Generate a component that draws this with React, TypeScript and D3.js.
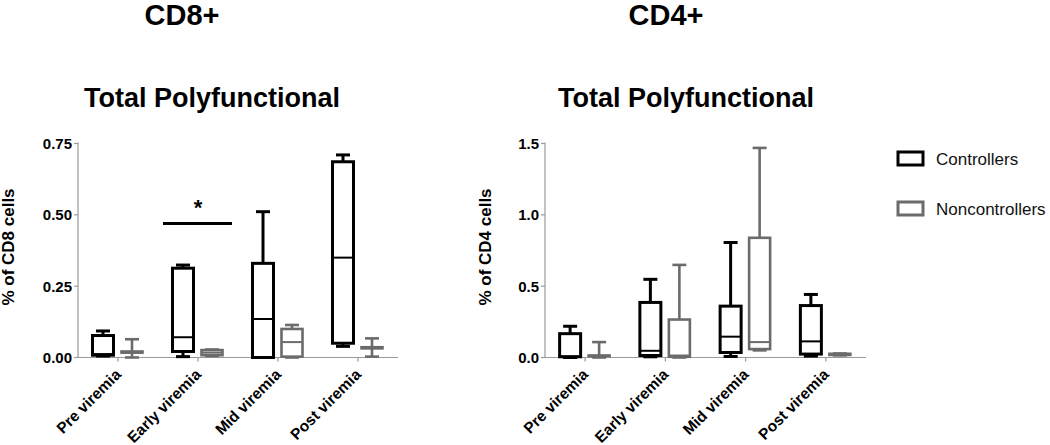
import React from 'react';
import * as d3 from 'd3';

// box stats: [min, q1, median, q3, max]
const categories = ['Pre viremia', 'Early viremia', 'Mid viremia', 'Post viremia'];
const groups = ['Controllers', 'Noncontrollers'];

const cd8Controllers = [
  [0.005, 0.008, 0.012, 0.077, 0.093],
  [0.003, 0.021, 0.071, 0.313, 0.324],
  [0.0, 0.0, 0.135, 0.33, 0.511],
  [0.039, 0.05, 0.35, 0.686, 0.71],
];
const cd8Noncontrollers = [
  [0.0, 0.017, 0.019, 0.021, 0.064],
  [0.005, 0.008, 0.017, 0.026, 0.028],
  [0.0, 0.003, 0.054, 0.1, 0.114],
  [0.003, 0.032, 0.034, 0.036, 0.067],
];
const cd4Controllers = [
  [0.0, 0.005, 0.007, 0.167, 0.219],
  [0.005, 0.014, 0.047, 0.386, 0.548],
  [0.007, 0.035, 0.146, 0.36, 0.806],
  [0.01, 0.024, 0.113, 0.364, 0.442],
];
const cd4Noncontrollers = [
  [0.0, 0.01, 0.012, 0.014, 0.108],
  [0.0, 0.005, 0.014, 0.266, 0.649],
  [0.05, 0.059, 0.108, 0.839, 1.469],
  [0.015, 0.018, 0.021, 0.026, 0.028],
];

const cd8Ticks = [0, 0.25, 0.5, 0.75];
const cd4Ticks = [0, 0.5, 1.0, 1.5];

const FONT = '"Liberation Sans", Arial, Helvetica, sans-serif';
const COLORS = ['#000000', '#6b6b6b'];
const AXIS = '#9a9a9a';

type PanelProps = {
  x0: number;
  x1: number;
  yMax: number;
  ticks: number[];
  fmt: string;
  yLabel: string;
  labelX: number;
  series: number[][][];
  children?: React.ReactNode;
};

const TOP = 143.5;
const BOTTOM = 357.5;

const Panel = ({ x0, x1, yMax, ticks, fmt, yLabel, labelX, series, children }: PanelProps) => {
  const x = d3.scaleBand<string>().domain(categories).range([x0, x1]);
  const y = d3.scaleLinear().domain([0, yMax]).range([BOTTOM, TOP]);
  const offset = d3.scalePoint<string>().domain(groups).range([-15, 14]);
  const f = d3.format(fmt);
  const boxW = 21;
  const capW = 14;

  return (
    <g>
      {/* axes */}
      <line x1={x0} x2={x0} y1={TOP - 1} y2={BOTTOM} stroke={AXIS} strokeWidth={1.2} />
      <line x1={x0} x2={x1} y1={BOTTOM} y2={BOTTOM} stroke={AXIS} strokeWidth={1.2} />
      {ticks.map((t) => (
        <g key={t}>
          <line x1={x0 - 4} x2={x0} y1={y(t)} y2={y(t)} stroke={AXIS} strokeWidth={1.2} />
          <text x={x0 - 6} y={y(t)} dy="0.36em" textAnchor="end" fontSize={15} fontWeight="bold" fontFamily={FONT}>
            {f(t)}
          </text>
        </g>
      ))}
      {categories.map((c) => {
        const cx = x(c)! + x.bandwidth() / 2;
        return (
          <g key={c}>
            <line x1={cx} x2={cx} y1={BOTTOM} y2={BOTTOM + 4} stroke={AXIS} strokeWidth={1.2} />
            <text
              transform={`translate(${cx + 4},${BOTTOM + 18}) rotate(-45)`}
              textAnchor="end"
              fontSize={15.5}
              fontWeight="bold"
              fontFamily={FONT}
            >
              {c}
            </text>
          </g>
        );
      })}
      <text
        transform={`translate(${labelX},247) rotate(-90)`}
        textAnchor="middle"
        fontSize={17}
        fontWeight="bold"
        fontFamily={FONT}
      >
        {yLabel}
      </text>

      {/* boxes */}
      {series.map((s, gi) =>
        s.map((d, ci) => {
          const [mn, q1, md, q3, mx] = d;
          const cx = x(categories[ci])! + x.bandwidth() / 2 + offset(groups[gi])!;
          const col = COLORS[gi];
          const sw = gi === 0 ? 3 : 2.6;
          return (
            <g key={`${gi}-${ci}`} stroke={col} fill="none">
              <line x1={cx} x2={cx} y1={y(q3)} y2={y(mx)} strokeWidth={sw} />
              <line x1={cx} x2={cx} y1={y(q1)} y2={y(mn)} strokeWidth={sw} />
              <line x1={cx - capW / 2} x2={cx + capW / 2} y1={y(mx)} y2={y(mx)} strokeWidth={sw} />
              <line x1={cx - capW / 2} x2={cx + capW / 2} y1={y(mn)} y2={y(mn)} strokeWidth={sw} />
              <rect
                x={cx - boxW / 2}
                y={y(q3)}
                width={boxW}
                height={Math.max(0, y(q1) - y(q3))}
                fill="#ffffff"
                strokeWidth={sw}
              />
              <line x1={cx - boxW / 2} x2={cx + boxW / 2} y1={y(md)} y2={y(md)} strokeWidth={2} />
            </g>
          );
        })
      )}
      {children}
    </g>
  );
};

const App = () => {
  const yL = d3.scaleLinear().domain([0, 0.75]).range([BOTTOM, TOP]);
  const xL = d3.scaleBand<string>().domain(categories).range([78, 398]);
  const sigY = yL(0.47);
  const sigMid = xL('Early viremia')! + xL.bandwidth() / 2;

  return (
    <svg width={1050} height={445} style={{ position: 'absolute', left: 0, top: 0, background: '#fff' }}>
      <text x={182} y={25} textAnchor="middle" fontSize={29} fontWeight="bold" fontFamily={FONT}>CD8+</text>
      <text x={212} y={107} textAnchor="middle" fontSize={27} fontWeight="bold" fontFamily={FONT}>Total Polyfunctional</text>
      <text x={666} y={25} textAnchor="middle" fontSize={29} fontWeight="bold" fontFamily={FONT}>CD4+</text>
      <text x={686} y={107} textAnchor="middle" fontSize={27} fontWeight="bold" fontFamily={FONT}>Total Polyfunctional</text>

      <Panel
        x0={78}
        x1={398}
        yMax={0.75}
        ticks={cd8Ticks}
        fmt=".2f"
        yLabel="% of CD8 cells"
        labelX={14}
        series={[cd8Controllers, cd8Noncontrollers]}
      >
        <line x1={sigMid - 35} x2={sigMid + 34} y1={sigY} y2={sigY} stroke="#000" strokeWidth={3} />
        <text x={sigMid} y={sigY - 8} textAnchor="middle" fontSize={22} fontWeight="bold" fontFamily={FONT}>*</text>
      </Panel>

      <Panel
        x0={545}
        x1={866}
        yMax={1.5}
        ticks={cd4Ticks}
        fmt=".1f"
        yLabel="% of CD4 cells"
        labelX={491}
        series={[cd4Controllers, cd4Noncontrollers]}
      />

      {/* legend */}
      {groups.map((g, i) => (
        <g key={g}>
          <rect x={898} y={152 + i * 50} width={25} height={13} fill="#fff" stroke={COLORS[i]} strokeWidth={3} />
          <text x={936} y={165 + i * 50} fontSize={17} fontFamily={FONT} fill="#111">{g}</text>
        </g>
      ))}
    </svg>
  );
};

export default App;
